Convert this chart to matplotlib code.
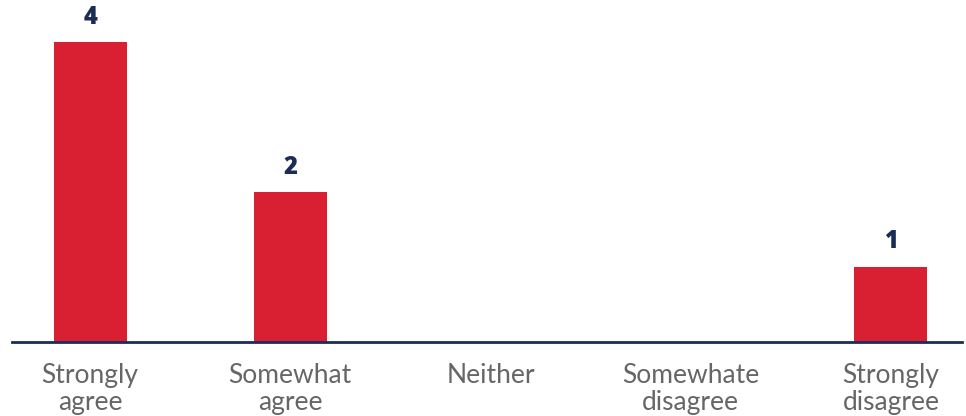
import matplotlib
matplotlib.use("Agg")
import matplotlib.pyplot as plt

categories = ["Strongly\nagree", "Somewhat\nagree", "Neither", "Somewhate\ndisagree", "Strongly\ndisagree"]
counts = [4, 2, 0, 0, 1]

bar_color = "#d92032"
navy = "#1c2d55"
label_gray = "#666666"

plt.rcParams["font.family"] = ["Lato", "DejaVu Sans"]

fig = plt.figure(figsize=(9.66, 4.16), dpi=100)
ax = fig.add_axes([12 / 966, 74 / 416, 950 / 966, 342 / 416])

x = list(range(len(categories)))
bars = ax.bar(x, counts, width=0.365, color=bar_color, zorder=2)

for xi, v in zip(x, counts):
    if v > 0:
        ax.annotate(str(v), (xi, v), xytext=(0, 9), textcoords="offset points",
                    ha="center", va="bottom", fontsize=17, fontweight="heavy",
                    color=navy, family=["Open Sans", "DejaVu Sans"])

ax.set_xlim(-0.39, 4.355)
ax.set_ylim(0, 4.56)
ax.set_xticks(x)
ax.set_xticklabels(categories, fontsize=19, color=label_gray, linespacing=1.1)
ax.tick_params(axis="x", length=0, pad=15)
ax.set_yticks([])
for side in ["left", "right", "top"]:
    ax.spines[side].set_visible(False)
ax.spines["bottom"].set_color(navy)
ax.spines["bottom"].set_linewidth(2)
ax.spines["bottom"].set_zorder(3)

fig.savefig("out.png", dpi=100)
